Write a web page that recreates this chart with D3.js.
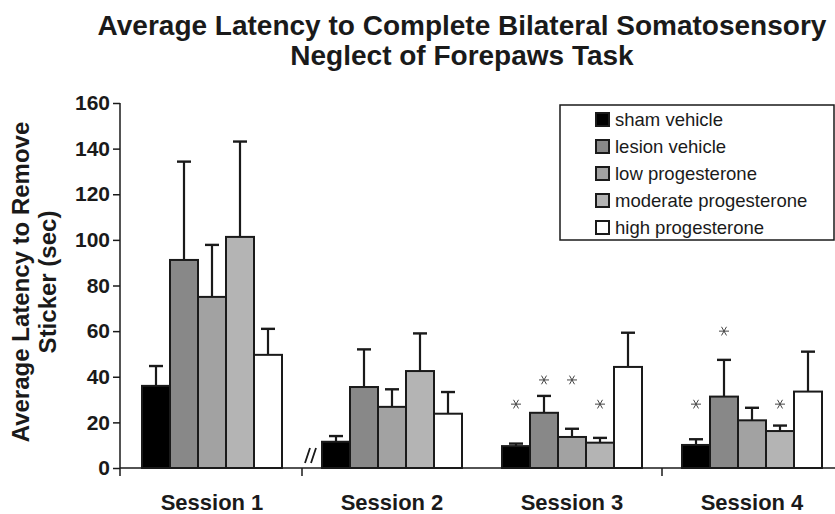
<!DOCTYPE html>
<html>
<head>
<meta charset="utf-8">
<script src="https://cdn.jsdelivr.net/npm/d3@7"></script>
<style>
  body { margin: 0; background: #fff; }
  svg { display: block; font-family: "Liberation Sans", Arial, sans-serif; }
</style>
</head>
<body>
<svg id="chart" width="835" height="514"></svg>
<script>
// data (seconds)
var sessions = ["Session 1", "Session 2", "Session 3", "Session 4"];
var groups = ["sham vehicle", "lesion vehicle", "low progesterone", "moderate progesterone", "high progesterone"];

var shamMean     = [36, 11.5, 9.6, 10.1];
var lesionMean   = [91.2, 35.5, 24.2, 31.3];
var lowMean      = [75, 26.8, 13.6, 20.9];
var moderateMean = [101.3, 42.5, 11.1, 16.2];
var highMean     = [49.6, 23.8, 44.3, 33.5];

var shamErr     = [8.7, 2.5, 1.1, 2.5];
var lesionErr   = [43.1, 16.5, 7.4, 16.1];
var lowErr      = [22.8, 7.7, 3.6, 5.5];
var moderateErr = [41.8, 16.5, 2.1, 2.4];
var highErr     = [11.4, 9.5, 15, 17.5];

var yTicks = [0, 20, 40, 60, 80, 100, 120, 140, 160];

// asterisks: session, group, height (sec)
var sigSession = ["Session 3", "Session 3", "Session 3", "Session 3", "Session 4", "Session 4", "Session 4"];
var sigGroup   = ["sham vehicle", "lesion vehicle", "low progesterone", "moderate progesterone", "sham vehicle", "lesion vehicle", "moderate progesterone"];
var sigValue   = [28, 38.6, 38.6, 28, 28, 60, 28];

var means = [shamMean, lesionMean, lowMean, moderateMean, highMean];
var errs = [shamErr, lesionErr, lowErr, moderateErr, highErr];

var rows = [];
groups.forEach(function(g, gi) {
    sessions.forEach(function(s, si) {
        rows.push({ group: g, session: s, mean: means[gi][si], err: errs[gi][si] });
    });
});

var svg = d3.select("#chart");

var x0 = d3.scaleBand().domain(sessions).range([122, 842]).padding(0);
var x1 = d3.scaleBand().domain(groups).range([20, 160]).padding(0);
var y = d3.scaleLinear().domain([0, 160]).range([468, 103]);

var color = d3.scaleOrdinal()
    .domain(groups)
    .range(["#000000", "#888888", "#a2a2a2", "#b4b4b4", "#ffffff"]);

var ink = "#1a1a1a";

// title
svg.append("text")
    .attr("x", 462).attr("y", 35)
    .attr("text-anchor", "middle")
    .style("font-size", "28px").style("font-weight", "bold")
    .style("fill", ink)
    .text("Average Latency to Complete Bilateral Somatosensory");
svg.append("text")
    .attr("x", 462).attr("y", 65)
    .attr("text-anchor", "middle")
    .style("font-size", "28px").style("font-weight", "bold")
    .style("fill", ink)
    .text("Neglect of Forepaws Task");

// y axis label
svg.append("text")
    .attr("transform", "translate(29,282) rotate(-90)")
    .attr("text-anchor", "middle")
    .style("font-size", "24px").style("font-weight", "bold")
    .style("fill", ink)
    .text("Average Latency to Remove");
svg.append("text")
    .attr("transform", "translate(56,282) rotate(-90)")
    .attr("text-anchor", "middle")
    .style("font-size", "24px").style("font-weight", "bold")
    .style("fill", ink)
    .text("Sticker (sec)");

// y axis
var yAxis = svg.append("g")
    .attr("transform", "translate(120,0)")
    .call(d3.axisLeft(y).tickValues(yTicks).tickSize(7).tickSizeOuter(0).tickPadding(3));
yAxis.select(".domain").remove();
yAxis.selectAll(".tick line").attr("stroke", ink).attr("stroke-width", 1.5);
yAxis.selectAll(".tick text")
    .style("font-size", "21px").style("font-weight", "bold")
    .style("font-family", "'Liberation Sans', Arial, sans-serif")
    .attr("fill", ink);

svg.append("line")
    .attr("x1", 120).attr("x2", 120)
    .attr("y1", y(160)).attr("y2", y(0) + 8)
    .attr("stroke", ink).attr("stroke-width", 1.5);

// x axis
svg.append("line")
    .attr("x1", 120).attr("x2", 835)
    .attr("y1", y(0)).attr("y2", y(0))
    .attr("stroke", ink).attr("stroke-width", 1.5);

svg.selectAll(".xtick")
    .data([sessions[1], sessions[3]])
    .enter().append("line")
    .attr("class", "xtick")
    .attr("x1", function(d) { return x0(d); })
    .attr("x2", function(d) { return x0(d); })
    .attr("y1", y(0)).attr("y2", y(0) + 8)
    .attr("stroke", ink).attr("stroke-width", 1.5);

svg.selectAll(".xlabel")
    .data(sessions)
    .enter().append("text")
    .attr("class", "xlabel")
    .attr("x", function(d) { return x0(d) + x1(groups[2]) + x1.bandwidth() / 2; })
    .attr("y", 510)
    .attr("text-anchor", "middle")
    .style("font-size", "22px").style("font-weight", "bold")
    .style("fill", ink)
    .text(function(d) { return d; });

// axis break mark before session 2
var bx = x0(sessions[1]);
[0, 6].forEach(function(off) {
    svg.append("line")
        .attr("x1", bx + 3 + off).attr("y1", y(0) - 5)
        .attr("x2", bx + 8 + off).attr("y2", y(0) - 20)
        .attr("stroke", ink).attr("stroke-width", 1.8);
});

// error bars (drawn behind the bars)
var eb = svg.selectAll(".err")
    .data(rows)
    .enter().append("g")
    .attr("class", "err");

eb.append("line")
    .attr("x1", function(d) { return x0(d.session) + x1(d.group) + x1.bandwidth() / 2; })
    .attr("x2", function(d) { return x0(d.session) + x1(d.group) + x1.bandwidth() / 2; })
    .attr("y1", function(d) { return y(d.mean); })
    .attr("y2", function(d) { return y(d.mean + d.err); })
    .attr("stroke", ink).attr("stroke-width", 2.2);

eb.append("line")
    .attr("x1", function(d) { return x0(d.session) + x1(d.group) + x1.bandwidth() / 2 - 7; })
    .attr("x2", function(d) { return x0(d.session) + x1(d.group) + x1.bandwidth() / 2 + 7; })
    .attr("y1", function(d) { return y(d.mean + d.err); })
    .attr("y2", function(d) { return y(d.mean + d.err); })
    .attr("stroke", ink).attr("stroke-width", 2.4);

// bars
svg.selectAll(".bar")
    .data(rows)
    .enter().append("rect")
    .attr("class", "bar")
    .attr("x", function(d) { return x0(d.session) + x1(d.group); })
    .attr("width", x1.bandwidth())
    .attr("y", function(d) { return y(d.mean); })
    .attr("height", function(d) { return y(0) - y(d.mean); })
    .attr("fill", function(d) { return color(d.group); })
    .attr("stroke", ink)
    .attr("stroke-width", 2);

// significance asterisks
var star = d3.symbol().type(d3.symbolAsterisk).size(70);
svg.selectAll(".sig")
    .data(sigValue)
    .enter().append("path")
    .attr("class", "sig")
    .attr("d", star)
    .attr("transform", function(d, i) {
        var cx = x0(sigSession[i]) + x1(sigGroup[i]) + x1.bandwidth() / 2;
        return "translate(" + cx + "," + y(d) + ") rotate(90)";
    })
    .attr("fill", "none")
    .attr("stroke", "#444")
    .attr("stroke-width", 1);

// legend
var legend = svg.append("g").attr("transform", "translate(560,105)");
legend.append("rect")
    .attr("width", 274).attr("height", 135)
    .attr("fill", "#fff")
    .attr("stroke", ink).attr("stroke-width", 1.5);

var item = legend.selectAll(".item")
    .data(groups)
    .enter().append("g")
    .attr("class", "item")
    .attr("transform", function(d, i) { return "translate(0," + (15 + i * 27) + ")"; });

item.append("rect")
    .attr("x", 36).attr("y", -7)
    .attr("width", 13).attr("height", 13)
    .attr("fill", function(d) { return color(d); })
    .attr("stroke", ink).attr("stroke-width", 2);

item.append("text")
    .attr("x", 55).attr("y", 6)
    .style("font-size", "18.5px")
    .style("fill", ink)
    .text(function(d) { return d; });
</script>
</body>
</html>
